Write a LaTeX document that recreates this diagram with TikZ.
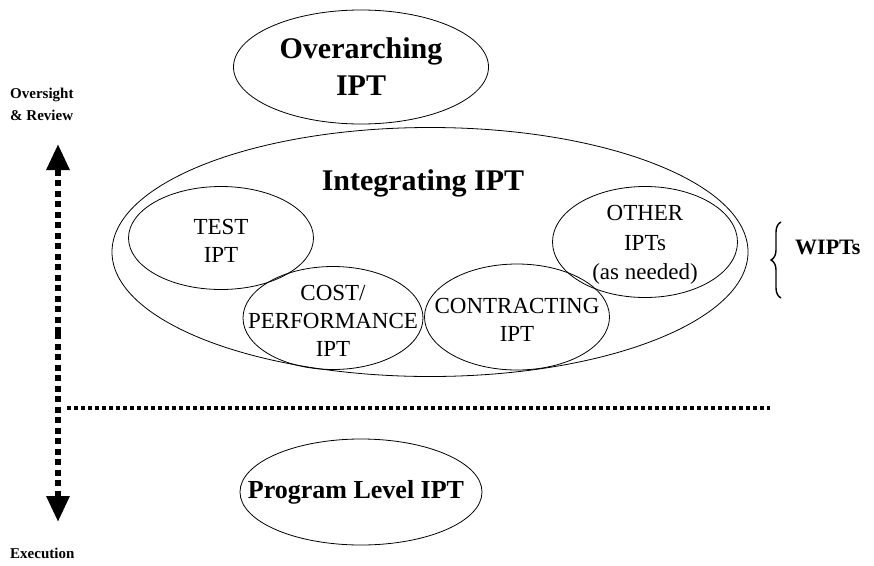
\documentclass[tikz,border=0pt]{standalone}
\usepackage{fontspec}
\setmainfont{Liberation Serif}
\usetikzlibrary{shapes.geometric,arrows.meta,decorations.pathreplacing}
\begin{document}
\begin{tikzpicture}[x=1pt,y=-1pt,
  oval/.style={draw=black,line width=0.8pt,ellipse,inner sep=0pt},
  bigtxt/.style={font=\fontsize{30}{37}\selectfont\bfseries,align=center,inner sep=0pt},
  smalltxt/.style={font=\fontsize{23}{28}\selectfont,align=center,inner sep=0pt},
  sidetxt/.style={font=\fontsize{15}{22}\selectfont\bfseries,align=left,inner sep=0pt,anchor=west},
  vdots/.style={line width=6pt,dash pattern=on 6pt off 4.5pt},
  hdots/.style={line width=4pt,dash pattern=on 4pt off 3pt}]
\useasboundingbox (0,0) rectangle (874,565);
% big ellipses
\node[oval,minimum width=255pt,minimum height=114pt] (over) at (361,67) {};
\node[bigtxt] (overtxt) at (361,67) {Overarching\\IPT};
\node[oval,minimum width=636pt,minimum height=249pt] (integ) at (430,252) {};
\node[bigtxt] (integtxt) at (423,183) {Integrating IPT};
\node[oval,minimum width=242pt,minimum height=106pt] (prog) at (361,492) {};
\node[bigtxt,font=\fontsize{26}{30}\selectfont\bfseries] (progtxt) at (356,492) {Program Level IPT};
% working IPTs
\node[oval,minimum width=185pt,minimum height=103pt] (test) at (221,238) {};
\node[smalltxt] (testtxt) at (221,241) {TEST\\IPT};
\node[oval,minimum width=180pt,minimum height=103pt] (cost) at (333,318) {};
\node[smalltxt] (costtxt) at (333,321) {COST/\\PERFORMANCE\\IPT};
\node[oval,minimum width=185pt,minimum height=106pt] (contr) at (517,317) {};
\node[smalltxt] (contrtxt) at (517,320) {CONTRACTING\\IPT};
\node[oval,minimum width=185pt,minimum height=111pt] (other) at (645,242) {};
\node[smalltxt,font=\fontsize{23}{29.5}\selectfont] (othertxt) at (645,245) {OTHER\\IPTs\\(as needed)};
% side labels
\node[sidetxt] (oversight) at (10,104) {Oversight\\\& Review};
\node[sidetxt] (exec) at (10,553) {Execution};
\coordinate (atop) at (58,144);
\coordinate (abot) at (58,522);
\coordinate (amid) at (58,333);
\draw[vdots,-{Triangle[width=22pt,length=26pt]}] (amid) -- (atop);
\draw[vdots,-{Triangle[width=22pt,length=26pt]}] (amid) -- (abot);
\coordinate (hl) at (67,408);
\coordinate (hr) at (770,408);
\draw[hdots] (hl) -- (hr);
% brace
\coordinate (bt) at (781,222);
\coordinate (bb) at (781,298);
\draw[line width=1.4pt,decorate,decoration={brace,amplitude=10pt}] (bb) -- (bt);
\node[font=\fontsize{22}{26}\selectfont\bfseries,anchor=west,inner sep=0pt] (wipts) at (795,247) {WIPTs};
\end{tikzpicture}
\end{document}
